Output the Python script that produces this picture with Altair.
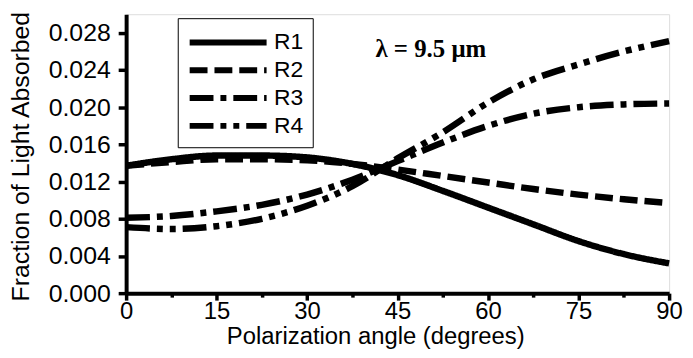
import altair as alt
import pandas as pd

# ---- data ----
angles = [0, 7.5, 15, 22.5, 30, 37.5, 45, 52.5, 60, 67.5, 75, 82.5, 90]
r1 = [0.0137, 0.0144, 0.0148, 0.0148, 0.0146, 0.0139, 0.0127, 0.0110, 0.0092, 0.0074, 0.0056, 0.0042, 0.0032]
r2 = [0.0137, 0.0141, 0.0144, 0.0144, 0.0143, 0.0139, 0.0133, 0.0126, 0.0119, 0.0112, 0.0106, 0.0101, 0.0097]
r3 = [0.0081, 0.0083, 0.0088, 0.0095, 0.0106, 0.0122, 0.0142, 0.0162, 0.0180, 0.0193, 0.0200, 0.0203, 0.0204]
r4 = [0.0071, 0.0069, 0.0072, 0.0080, 0.0094, 0.0115, 0.0145, 0.0173, 0.0205, 0.0230, 0.0246, 0.0260, 0.0271]
series_names = ["R1", "R2", "R3", "R4"]
series_values = [r1, r2, r3, r4]

x_ticks = [0, 7.5, 15, 22.5, 30, 37.5, 45, 52.5, 60, 67.5, 75, 82.5, 90]
y_ticks = [i / 1000 for i in range(0, 30)]

annotation_text = ["λ = 9.5 μm"]
annotation_x = [50.5]
annotation_y = [0.0262]

rows = []
for name, vals in zip(series_names, series_values):
    for a, v in zip(angles, vals):
        rows.append({"angle": a, "value": v, "series": name})
df = pd.DataFrame(rows)

ann = pd.DataFrame({"x": annotation_x, "y": annotation_y, "t": annotation_text})

FONT = "Liberation Sans"
MAJOR_Y = "abs(datum.value*250 - round(datum.value*250)) < 0.01"

x_axis = alt.Axis(
    values=x_ticks,
    labelExpr="datum.value % 15 == 0 ? datum.label : ''",
    tickSize={"condition": {"test": "datum.value % 15 == 0", "value": 7}, "value": 4},
    tickWidth=3.5,
    tickColor="black",
    domainColor="black",
    domainWidth=4,
    labelFont=FONT,
    labelFontSize=24,
    labelColor="black",
    labelPadding=0,
    labelFlush=False,
    labelOverlap=False,
    grid=False,
    title="Polarization angle (degrees)",
    titleFont=FONT,
    titleFontSize=24,
    titleFontWeight="normal",
    titleColor="black",
    titleX=251,
    titleY=51,
    titleBaseline="alphabetic",
)

y_axis = alt.Axis(
    values=y_ticks,
    labelExpr=MAJOR_Y + " ? format(datum.value, '.3f') : ''",
    tickSize={"condition": {"test": MAJOR_Y, "value": 8}, "value": 4},
    tickWidth=3.5,
    tickColor="black",
    domainColor="black",
    domainWidth=4,
    labelFont=FONT,
    labelFontSize=25,
    labelColor="black",
    labelPadding=8,
    labelFlush=False,
    labelOverlap=False,
    grid=False,
    title="Fraction of Light Absorbed",
    titleFont=FONT,
    titleFontSize=25,
    titleFontWeight="normal",
    titleColor="black",
    titleAngle=-90,
    titleX=-98,
    titleY=143,
    titleBaseline="alphabetic",
)

lines = alt.Chart(df).mark_line(
    color="black", strokeWidth=6.5, interpolate="monotone", strokeCap="butt"
).encode(
    x=alt.X("angle:Q", scale=alt.Scale(domain=[0, 90], nice=False, zero=False), axis=x_axis),
    y=alt.Y("value:Q", scale=alt.Scale(domain=[0, 0.030], nice=False), axis=y_axis),
    strokeDash=alt.StrokeDash(
        "series:N",
        scale=alt.Scale(
            domain=series_names,
            range=[[1, 0], [18, 7], [24, 7, 6, 7], [24, 7, 6, 7, 6, 7]],
        ),
        legend=alt.Legend(
            orient="none",
            legendX=52,
            legendY=4,
            title=None,
            symbolType="M-1,0H5.2",
            symbolSize=625,
            symbolStrokeWidth=6,
            symbolStrokeColor="black",
            labelOffset=57,
            labelFont=FONT,
            labelFontSize=23,
            labelColor="black",
            labelExpr="datum.label + '\u00a0\u00a0\u00a0'",
            strokeColor="black",
            padding=9,
            rowPadding=-2,
        ),
    ),
)

text = alt.Chart(ann).mark_text(
    font="Liberation Serif", fontSize=25, fontWeight="bold", color="black"
).encode(
    x=alt.X("x:Q"),
    y=alt.Y("y:Q"),
    text="t:N",
)

chart = alt.layer(lines, text).properties(
    width=547,
    height=281,
    autosize=alt.AutoSizeParams(type="none"),
    padding={"left": 119, "top": 5, "right": 16, "bottom": 56},
).configure_view(stroke=None).configure(background="white")

chart.save("out.html", embed_options={"renderer": "svg", "actions": False})
